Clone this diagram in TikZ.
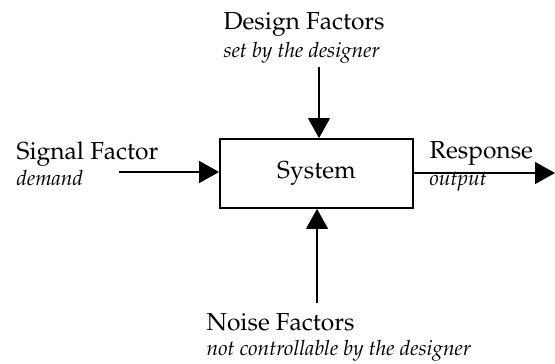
\documentclass[tikz,border=0pt]{standalone}
\usepackage[T1]{fontenc}
\usepackage{mathpazo}
\usetikzlibrary{arrows.meta, positioning}

\begin{document}
\begin{tikzpicture}[
	x=0.5pt, y=-0.5pt,
	>={Triangle[length=10pt, width=11pt]},
	line width=0.6pt,
	title/.style={font=\fontsize{12.3}{14}\selectfont, inner sep=0pt},
	note/.style={font=\fontsize{10.5}{12}\selectfont\itshape, inner sep=0pt}
]

\useasboundingbox (0,0) rectangle (555,363);

 \node [draw, line width=0.9pt, minimum width=96.5pt, minimum height=34.5pt,
        font=\fontsize{12.3}{14}\selectfont]        (sys)  at (316.5,173.5) {System};

 \node [title, anchor=base west] (sig)   at (16,160)  {Signal Factor};
 \node [note,  anchor=base west] (sigd)  at (16,185)  {demand};
 \node [title, anchor=base west] (resp)  at (429,159) {Response};
 \node [note,  anchor=base west] (respd) at (429,185) {output};
 \node [title, anchor=base west] (des)   at (223,30)  {Design Factors};
 \node [note,  anchor=base west] (desd)  at (223,58)  {set by the designer};
 \node [title, anchor=base west] (noi)   at (206,330) {Noise Factors};
 \node [note,  anchor=base west] (noid)  at (206,355) {not controllable by the designer};

 \coordinate (sigin)   at (119,172);
 \coordinate (respout) at (555,173);
 \coordinate (desin)   at (319,67);
 \coordinate (noiin)   at (317,303);

 \draw [->] (sigin) -- (sigin -| sys.west);
 \draw [->] (sys.east |- respout) -- (respout);
 \draw [->] (desin) -- (desin |- sys.north);
 \draw [->] (noiin) -- (noiin |- sys.south);

\end{tikzpicture}
\end{document}
